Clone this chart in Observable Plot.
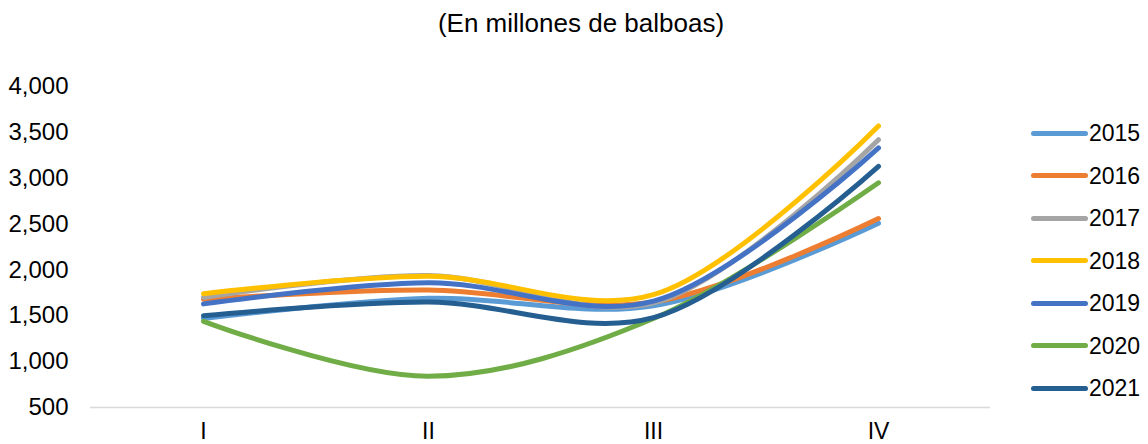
<!DOCTYPE html>
<html>
<head>
<meta charset="utf-8">
<script src="https://cdn.jsdelivr.net/npm/d3@7"></script>
<script src="https://cdn.jsdelivr.net/npm/@observablehq/plot@0.6"></script>
<style>
  html, body { margin: 0; padding: 0; background: #fff; }
  #wrap { position: relative; width: 1148px; height: 444px; overflow: hidden;
          font-family: "Liberation Sans", Arial, sans-serif; color: #000; }
  #title { height: 50px; width: 1148px; box-sizing: border-box; padding-left: 14px;
           text-align: center; font-size: 26px; line-height: 46px; white-space: nowrap; }
  .lg-line { position: absolute; height: 5px; border-radius: 3px; }
  .lg-text { position: absolute; font-size: 23px; line-height: 23px; white-space: nowrap; }
</style>
</head>
<body>
<div id="wrap">
  <div id="title">(En millones de balboas)</div>
  <div id="chart"></div>
</div>
<script>
// Quarterly values, millions of balboas
const quarters = ["I", "II", "III", "IV"];
const years = ["2015", "2016", "2017", "2018", "2019", "2020", "2021"];
const v2015 = [1470, 1690, 1610, 2510];
const v2016 = [1680, 1780, 1650, 2560];
const v2017 = [1700, 1940, 1640, 3420];
const v2018 = [1740, 1930, 1730, 3570];
const v2019 = [1630, 1860, 1660, 3330];
const v2020 = [1440, 840, 1470, 2950];
const v2021 = [1500, 1650, 1480, 3130];
const yTicks = [500, 1000, 1500, 2000, 2500, 3000, 3500, 4000];
const colors = ["#5B9BD5", "#ED7D31", "#A5A5A5", "#FFC000", "#4472C4", "#70AD47", "#255E91"];

const series = [v2015, v2016, v2017, v2018, v2019, v2020, v2021];
const rows = years.flatMap((yr, i) => quarters.map((q, j) => ({year: yr, q, v: series[i][j]})));

const chart = Plot.plot({
  width: 1148,
  height: 394,
  marginLeft: 90,
  marginRight: 158,
  marginTop: 36,
  marginBottom: 37,
  style: {fontFamily: "Liberation Sans, Arial, sans-serif", fontSize: "24px", color: "#000", background: "transparent", overflow: "visible"},
  x: {type: "point", domain: quarters, padding: 0.5, label: null},
  y: {domain: [500, 4000], label: null},
  color: {domain: years, range: colors},
  marks: [
    Plot.ruleY([500], {stroke: "#d9d9d9", strokeWidth: 1.5}),
    Plot.axisY({ticks: yTicks, tickSize: 0, tickPadding: 22, tickFormat: d3.format(","), fontSize: 24, fill: "#000", label: null}),
    Plot.axisX({tickSize: 0, tickPadding: 15, fontSize: 23, fill: "#000", label: null}),
    Plot.line(rows, {x: "q", y: "v", z: "year", stroke: "year", strokeWidth: 5,
      curve: "catmull-rom", strokeLinecap: "round", strokeLinejoin: "round"})
  ]
});
document.getElementById("chart").appendChild(chart);

// Legend column on the right
const wrap = document.getElementById("wrap");
years.forEach((yr, i) => {
  const cy = 133 + i * 42.5;
  const ln = document.createElement("div");
  ln.className = "lg-line";
  ln.style.left = "1031px";
  ln.style.width = "57px";
  ln.style.top = (cy - 2.5) + "px";
  ln.style.background = colors[i];
  wrap.appendChild(ln);
  const tx = document.createElement("div");
  tx.className = "lg-text";
  tx.style.left = "1089px";
  tx.style.top = (cy - 11) + "px";
  tx.textContent = yr;
  wrap.appendChild(tx);
});
</script>
</body>
</html>
